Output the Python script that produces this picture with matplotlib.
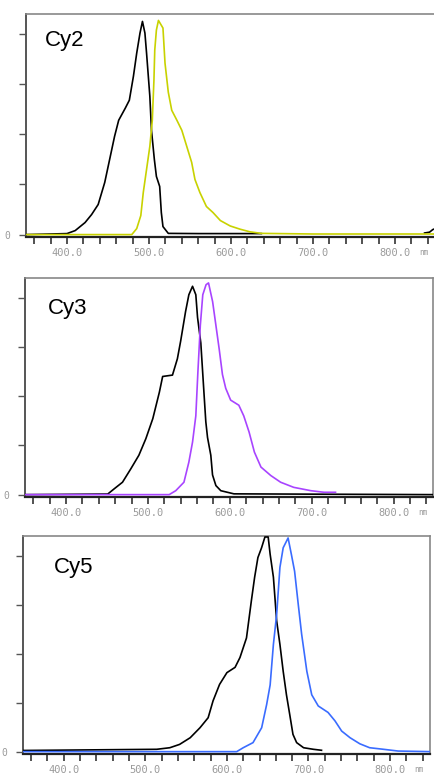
import matplotlib.pyplot as plt
from matplotlib.ticker import MultipleLocator

#====================
# Spectra (wavelength in nm, normalised intensity)
#====================

cy2_ex_nm = [350, 400, 410, 422, 430, 438, 446, 452, 458, 463, 471, 476, 481, 485, 489,
             492, 495, 497, 501, 503, 506.5, 509, 513, 515, 517, 523.5, 560, 600, 637]
cy2_ex = [0, 0.005, 0.02, 0.06, 0.10, 0.15, 0.26, 0.375, 0.49, 0.57, 0.63, 0.67, 0.79, 0.905, 1.005,
          1.063, 1.005, 0.905, 0.69, 0.52, 0.375, 0.29, 0.24, 0.11, 0.04, 0.006, 0.005, 0.005, 0.005]
cy2_ex_tail_nm = [836, 842, 846, 852]
cy2_ex_tail = [0.008, 0.012, 0.025, 0.035]
cy2_em_nm = [350, 479, 485, 490, 493, 497, 501, 504, 506, 507, 509, 511.5, 517, 519.5, 523.5,
             527.7, 534, 540, 546, 552, 556, 562, 570, 578, 587, 599, 611, 623, 637, 700, 870]
cy2_em = [0, 0, 0.03, 0.095, 0.21, 0.325, 0.44, 0.57, 0.77, 0.92, 1.02, 1.068, 1.03, 0.855, 0.71,
          0.62, 0.57, 0.52, 0.44, 0.36, 0.275, 0.21, 0.14, 0.11, 0.07, 0.043, 0.027, 0.014, 0.006, 0.003, 0.003]

cy3_ex_nm = [350, 451, 459, 469, 479, 489, 497.5, 506, 514, 518, 530, 536, 540, 546, 550,
             554.5, 558.5, 560.6, 564.6, 568.7, 570.7, 572.8, 576.8, 578.9, 583, 589, 605, 850]
cy3_ex = [0, 0.003, 0.03, 0.063, 0.13, 0.2, 0.284, 0.386, 0.52, 0.6, 0.607, 0.69, 0.78, 0.93, 1.015,
          1.058, 1.015, 0.9, 0.77, 0.5, 0.37, 0.29, 0.2, 0.1, 0.046, 0.02, 0.004, 0.0]
cy3_em_nm = [350, 526, 534, 544, 550, 554.5, 558.5, 561, 564, 567, 571, 574, 579, 583, 587,
             591, 595, 601, 611, 617, 623.5, 630, 638, 650, 662, 678, 699, 715, 729]
cy3_em = [0, 0, 0.02, 0.063, 0.165, 0.267, 0.40, 0.62, 0.86, 1.015, 1.066, 1.075, 0.98, 0.86, 0.74,
          0.61, 0.54, 0.48, 0.454, 0.40, 0.318, 0.216, 0.14, 0.097, 0.063, 0.037, 0.02, 0.012, 0.012]

cy5_ex_nm = [350, 514, 530, 542, 555, 567, 577, 583, 591, 600, 610, 616, 624, 630, 634, 638,
             642.5, 646.6, 650.6, 653, 657, 661, 665, 669, 673, 677, 681, 685.5, 694, 706, 716]
cy5_ex = [0.006, 0.012, 0.02, 0.037, 0.071, 0.122, 0.173, 0.259, 0.343, 0.403, 0.43, 0.48, 0.58, 0.77, 0.89, 0.99,
          1.04, 1.095, 1.095, 1.007, 0.89, 0.667, 0.547, 0.41, 0.29, 0.19, 0.088, 0.046, 0.02, 0.012, 0.007]
cy5_em_nm = [350, 612, 620, 632, 642.6, 648.7, 653, 657, 661, 665, 669, 675, 679, 683, 687.5,
             691.6, 698, 704, 712, 724, 732.5, 740.7, 751, 763, 775, 792, 810, 850]
cy5_em = [0, 0, 0.02, 0.046, 0.122, 0.24, 0.34, 0.547, 0.70, 0.94, 1.04, 1.09, 1.007, 0.92, 0.75,
          0.6, 0.41, 0.29, 0.233, 0.2, 0.157, 0.105, 0.071, 0.04, 0.02, 0.012, 0.003, 0.0]

x_labels = ['400.0', '500.0', '600.0', '700.0', '800.0']
x_label_pos = [400, 500, 600, 700, 800]

#====================
# Figure and panel layout (pixel boxes: left, right, top, bottom)
#====================

W, H = 435, 774
fig = plt.figure(figsize=(W / 100, H / 100), dpi=100)

panels = [
    dict(box=(26, 450, 14, 237), xlim=(350, 867), name='Cy2', tpos=(0.045, 0.93), col='#c8d200',
         ex=(cy2_ex_nm, cy2_ex), em=(cy2_em_nm, cy2_em), extra=(cy2_ex_tail_nm, cy2_ex_tail)),
    dict(box=(25, 433, 278, 497), xlim=(350, 848), name='Cy3', tpos=(0.056, 0.91), col='#a844ff',
         ex=(cy3_ex_nm, cy3_ex), em=(cy3_em_nm, cy3_em), extra=None),
    dict(box=(23, 430, 536, 754), xlim=(350, 849), name='Cy5', tpos=(0.076, 0.905), col='#3a6cff',
         ex=(cy5_ex_nm, cy5_ex), em=(cy5_em_nm, cy5_em), extra=None),
]

for p in panels:
    l, r, t, b = p['box']
    ax = fig.add_axes([l / W, (H - b) / H, (r - l) / W, (b - t) / H])

    # excitation in black, emission in colour drawn on top
    ax.plot(*p['ex'], color='black', lw=1.2, zorder=3)
    if p['extra'] is not None:
        ax.plot(*p['extra'], color='black', lw=1.2, zorder=3)
    ax.plot(*p['em'], color=p['col'], lw=1.2, zorder=4)

    ax.set_xlim(*p['xlim'])
    ax.set_ylim(-0.012, 1.10)

    ax.set_xticks(x_label_pos)
    ax.set_xticklabels(x_labels, family='DejaVu Sans Mono', fontsize=7.5, color='#9a9a9a')
    ax.xaxis.set_minor_locator(MultipleLocator(20))
    ax.tick_params(axis='x', which='both', direction='out', length=5, width=1.2,
                   color='#333333', pad=3)

    ax.set_yticks([0, 0.25, 0.5, 0.75, 1.0])
    ax.set_yticklabels(['0', '', '', '', ''], family='DejaVu Sans Mono', fontsize=7, color='#9a9a9a')
    ax.tick_params(axis='y', direction='out', length=5, width=1, color='#555555', pad=6)

    for side in ['top', 'right']:
        ax.spines[side].set_color('#888888')
        ax.spines[side].set_linewidth(1.2)
    ax.spines['left'].set_color('#555555')
    ax.spines['left'].set_linewidth(1.4)
    ax.spines['bottom'].set_color('#222222')
    ax.spines['bottom'].set_linewidth(1.6)

    ax.text(p['tpos'][0], p['tpos'][1], p['name'], transform=ax.transAxes,
            family='Liberation Sans', fontsize=16, ha='left', va='top')
    ax.text(830, -0.05, 'nm', transform=ax.get_xaxis_transform(),
            family='DejaVu Sans Mono', fontsize=5.5, color='#9a9a9a', ha='left', va='top')

fig.savefig('out.png', dpi=100)
